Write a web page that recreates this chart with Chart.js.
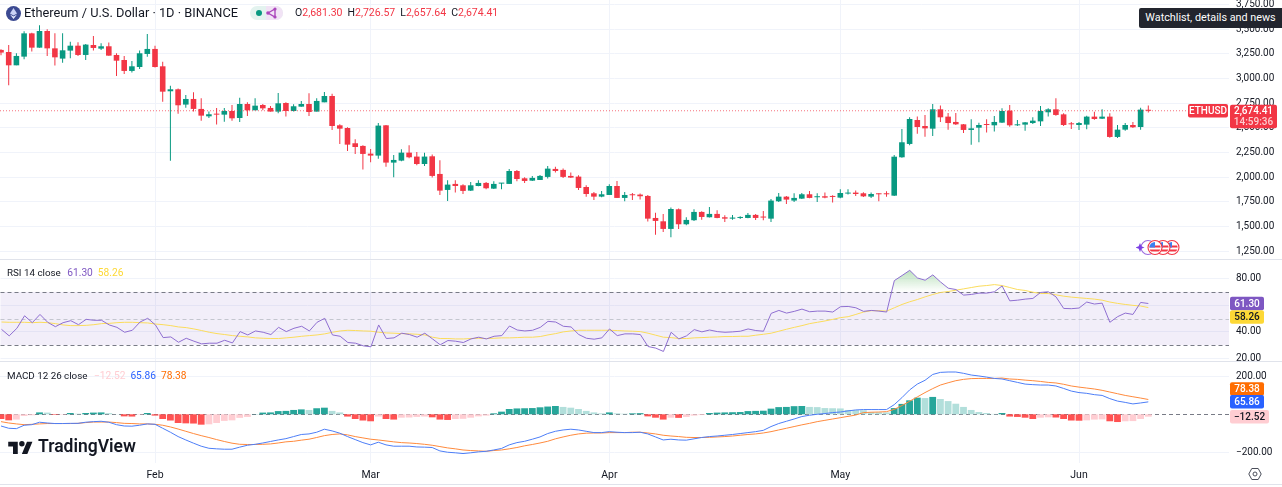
<!DOCTYPE html>
<html>
<head>
<meta charset="utf-8">
<title>ETHUSD</title>
<script src="https://cdn.jsdelivr.net/npm/chart.js@4/dist/chart.umd.min.js"></script>
<style>
    html, body { margin: 0; padding: 0; background: #fff; overflow: hidden; }
    body { width: 1282px; height: 487px; position: relative; font-family: Roboto, sans-serif; color: #131722; }
    canvas { position: absolute; left: 0; }
    .sep { position: absolute; left: 0; width: 1282px; height: 1px; background: #e0e3eb; }
    .txt { position: absolute; white-space: nowrap; font-size: 9.8px; line-height: 14px; }
    .txt span { margin-left: 5px; font-size: 10.2px; }
    .ohlc { font-size: 10.5px; }
    .ohlc b { font-weight: 400; margin-left: 5px; }
    .red { color: #f23645; }
</style>
</head>
<body>
<canvas id="priceChart" width="1282" height="259" style="top:0"></canvas>
<canvas id="rsiChart" width="1282" height="101" style="top:260px"></canvas>
<canvas id="macdChart" width="1282" height="123" style="top:362px"></canvas>
<div class="sep" style="top:259px"></div>
<div class="sep" style="top:361px"></div>
<div class="sep" style="top:484px"></div>

<svg style="position:absolute;left:6px;top:6px" width="15" height="15" viewBox="0 0 15 15">
    <circle cx="7.5" cy="7.5" r="7.5" fill="#3c4a92"/>
    <path d="M7.5 2 L11 7.6 L7.5 9.6 L4 7.6 Z" fill="#c9d1f5"/>
    <path d="M7.5 10.4 L11 8.4 L7.5 13 L4 8.4 Z" fill="#e8ecff"/>
</svg>
<div class="txt" style="left:24px;top:6px;font-size:12.8px">Ethereum / U.S. Dollar · 1D · BINANCE</div>
<svg style="position:absolute;left:250px;top:6px" width="33" height="14" viewBox="0 0 33 14">
    <rect width="33" height="14" rx="7" fill="#e3f3ef"/>
    <path d="M16 0 H26 A7 7 0 0 1 26 14 H16 Z" fill="#f1e3f5"/>
    <circle cx="9" cy="7" r="3" fill="#089981"/>
    <path d="M18 7 L25 3 L25 11 Z" fill="none" stroke="#ab47bc" stroke-width="1.4"/>
    <circle cx="18" cy="7" r="1.8" fill="#ab47bc"/><circle cx="25" cy="3" r="1.6" fill="#ab47bc"/><circle cx="25" cy="11" r="1.6" fill="#ab47bc"/>
</svg>
<div class="txt ohlc" style="left:295px;top:6px">O<i class="red" style="font-style:normal">2,681.30</i><b>H</b><i class="red" style="font-style:normal">2,726.57</i><b>L</b><i class="red" style="font-style:normal">2,657.64</i><b>C</b><i class="red" style="font-style:normal">2,674.41</i></div>

<div class="txt" style="left:1139px;top:8px;width:143px;height:20px;line-height:20px;background:#22252e;color:#fff;text-align:center;border-radius:2px 0 0 2px;font-size:10.8px">Watchlist, details and news</div>

<svg style="position:absolute;left:1136px;top:237px" width="48" height="21" viewBox="0 0 48 21">
    <defs>
        <clipPath id="flagClip"><circle cx="0" cy="0" r="5.6"/></clipPath>
        <g id="flag">
            <circle r="7" fill="#fff" stroke="#f23645" stroke-width="1.1"/>
            <g clip-path="url(#flagClip)">
                <rect x="-6" y="-6" width="12" height="12" fill="#fff"/>
                <rect x="-6" y="-2" width="12" height="2" fill="#f23645"/>
                <rect x="-6" y="2" width="12" height="2" fill="#f23645"/>
                <rect x="-6" y="-6" width="6" height="6" fill="#3d7ff0"/>
            </g>
        </g>
    </defs>
    <circle cx="12" cy="10.5" r="7" fill="none" stroke="#9c6ade" stroke-width="1.1"/>
    <path d="M4 6 L5.3 9.3 L8.5 10.5 L5.3 11.7 L4 15 L2.7 11.7 L-0.5 10.5 L2.7 9.3 Z" fill="#7b3fe4"/>
    <use href="#flag" x="36" y="10.5"/>
    <use href="#flag" x="27" y="10.5"/>
    <use href="#flag" x="19" y="10.5"/>
</svg>

<div class="txt" style="left:7px;top:266px">RSI 14 close<span style="color:#7e57c2;margin-left:6.5px">61.30</span><span style="color:#fdd835">58.26</span></div>
<div class="txt" style="left:7px;top:369px">MACD 12 26 close<span style="color:#ffcdd2;margin-left:6.5px">−12.52</span><span style="color:#2962ff">65.86</span><span style="color:#ff6d00">78.38</span></div>

<svg style="position:absolute;left:8px;top:439px" width="25" height="15" viewBox="0 0 36 22">
    <path d="M14 22H7V11H0V4h14v18zM28 22h-8l7.5-18h8L28 22z" fill="#131722"/><circle cx="20" cy="7" r="4" fill="#131722"/>
</svg>
<div class="txt" style="left:38px;top:436px;font-size:17.5px;line-height:21px;font-weight:600">TradingView</div>

<svg style="position:absolute;left:1248px;top:467px" width="14" height="14" viewBox="0 0 14 14">
    <path d="M3.8 1.5 H10.2 L13.2 7 L10.2 12.5 H3.8 L0.8 7 Z" fill="none" stroke="#4a4e5a"/>
    <circle cx="7" cy="7" r="2" fill="none" stroke="#4a4e5a"/>
</svg>

<script>
// Daily ETHUSD candles, Jan 12 to Jun 10
const opens = [3291,3270,3135,3223,3459,3314,3483,3307,3203,3284,
    3334,3240,3341,3304,3328,3240,3189,3078,3118,3250,
    3301,3125,2872,2892,2737,2794,2693,2618,2639,2635,
    2672,2601,2743,2679,2733,2703,2666,2753,2672,2716,
    2743,2666,2760,2824,2527,2500,2345,2318,2240,2220,
    2527,2149,2169,2250,2210,2135,2213,2034,1872,1933,
    1919,1865,1912,1943,1885,1936,1933,2064,1990,1966,
    1973,2004,2085,2075,2014,2007,1902,1838,1804,1821,
    1912,1791,1825,1825,1811,1588,1554,1477,1676,1524,
    1565,1649,1595,1629,1595,1581,1588,1588,1619,1598,
    1581,1757,1804,1764,1784,1828,1798,1808,1808,1794,
    1835,1845,1838,1804,1831,1834,1814,2203,2338,2581,
    2520,2493,2689,2615,2561,2537,2480,2503,2537,2527,
    2554,2676,2527,2534,2550,2567,2659,2689,2638,2544,
    2530,2534,2615,2594,2615,2409,2483,2530,2510,2681.3];
const highs = [3297,3341,3257,3480,3466,3540,3500,3459,3459,3375,
    3368,3351,3432,3358,3365,3257,3230,3179,3284,3453,
    3334,3172,2929,2899,2835,2862,2801,2666,2703,2703,
    2733,2807,2760,2801,2743,2723,2855,2760,2740,2774,
    2851,2801,2865,2848,2537,2507,2385,2324,2287,2551,
    2530,2226,2284,2324,2257,2250,2230,2173,1970,1970,
    1929,1953,1970,1953,1960,1943,2085,2075,2000,2014,
    2024,2115,2108,2088,2048,2021,1919,1852,1862,1929,
    1963,1852,1841,1835,1821,1642,1629,1693,1683,1595,
    1676,1656,1700,1666,1615,1618,1605,1639,1629,1659,
    1781,1841,1811,1838,1841,1862,1838,1845,1818,1879,
    1879,1865,1848,1845,1838,1858,2226,2490,2608,2615,
    2632,2743,2729,2652,2652,2540,2588,2554,2588,2621,
    2699,2733,2581,2561,2608,2723,2699,2801,2648,2561,
    2561,2625,2665,2689,2648,2530,2551,2561,2706,2726.57];
const lows = [3236,2932,3135,3196,3274,3314,3230,3132,3162,3206,
    3230,3189,3284,3291,3233,3027,3047,3061,3098,3223,
    3112,2767,2169,2645,2706,2666,2574,2601,2534,2564,
    2574,2561,2622,2679,2679,2666,2649,2615,2666,2716,
    2622,2666,2760,2480,2338,2267,2237,2078,2152,2189,
    2108,2000,2162,2193,2122,2115,1997,1821,1760,1845,
    1831,1862,1909,1879,1882,1879,1933,1960,1943,1963,
    1973,1987,2048,1994,1994,1872,1804,1771,1798,1821,
    1791,1757,1771,1774,1551,1419,1446,1392,1477,1514,
    1558,1571,1592,1585,1548,1571,1578,1585,1568,1565,
    1548,1750,1730,1750,1781,1788,1750,1788,1744,1788,
    1825,1811,1801,1790,1757,1804,1811,2199,2324,2442,
    2412,2419,2561,2483,2530,2449,2331,2355,2453,2463,
    2551,2513,2520,2473,2540,2520,2615,2625,2520,2490,
    2480,2486,2584,2591,2402,2398,2473,2500,2483,2657.64];
const closes = [3264,3135,3230,3459,3314,3483,3307,3216,3287,3334,
    3240,3345,3311,3328,3233,3182,3078,3125,3257,3301,
    3118,2868,2892,2730,2794,2693,2625,2639,2635,2672,
    2598,2743,2679,2726,2699,2666,2750,2672,2720,2743,
    2662,2774,2824,2520,2493,2331,2307,2237,2220,2524,
    2149,2176,2250,2203,2135,2210,2014,1865,1926,1912,
    1862,1919,1943,1889,1933,1943,2064,1983,1963,1994,
    2014,2088,2064,2004,1997,1892,1831,1804,1828,1912,
    1791,1821,1818,1808,1581,1558,1477,1679,1524,1568,
    1649,1598,1629,1588,1581,1592,1598,1619,1588,1592,
    1764,1804,1774,1791,1828,1791,1808,1794,1801,1841,
    1845,1831,1807,1831,1828,1828,2209,2355,2591,2510,
    2496,2689,2608,2550,2537,2480,2496,2530,2530,2561,
    2672,2527,2534,2557,2574,2672,2689,2632,2530,2537,
    2550,2615,2591,2615,2409,2483,2530,2507,2686,2674.41];

// RSI 14 and its moving average
const rsiValues = [41.9,37.0,42.7,52.1,46.9,53.1,47.2,43.9,46.9,48.4,
    45.4,49.4,48.7,48.7,45.2,43.4,39.7,41.2,47.4,50.2,
    45.2,35.7,36.2,32.2,35.2,33.0,31.0,31.5,31.5,33.7,
    31.7,40.2,37.7,40.7,39.7,38.0,43.4,40.2,42.7,44.2,
    40.7,47.2,50.2,37.7,36.7,32.0,31.5,29.5,28.8,45.2,
    35.0,35.5,39.0,38.0,36.0,39.0,34.7,30.3,33.5,33.0,
    32.0,34.7,36.0,34.7,36.7,37.2,44.4,41.4,40.7,41.2,
    43.4,47.9,47.4,44.2,43.7,38.0,35.2,34.5,35.5,42.2,
    37.2,38.5,38.5,38.0,29.0,27.8,25.3,39.7,34.7,37.0,
    41.7,40.0,41.4,40.2,39.7,40.0,40.5,42.2,41.0,40.5,
    53.9,56.1,54.1,55.4,57.1,55.1,55.6,55.6,54.9,58.9,
    59.1,58.1,55.4,56.1,55.6,54.9,78.5,82.3,86.2,80.5,
    78.8,82.8,77.5,72.8,71.8,67.6,68.1,69.1,69.1,70.1,
    74.5,63.3,63.8,64.6,65.1,69.6,70.1,66.3,57.6,57.4,
    57.9,62.4,60.9,61.6,47.2,51.4,54.1,53.1,62.1,61.3];
const rsiAverage = [47.4,47.2,47.2,47.2,46.9,47.2,46.9,46.2,45.2,44.7,
    44.7,44.9,45.4,46.2,46.4,46.9,47.2,47.2,46.9,46.7,
    45.9,45.4,44.7,43.7,43.2,42.2,41.0,39.7,38.7,38.0,
    37.2,36.7,36.2,35.5,35.2,35.0,35.0,35.5,36.0,36.7,
    37.2,37.7,38.5,39.7,40.7,41.2,41.0,40.7,40.5,39.7,
    39.2,39.0,38.7,38.5,38.2,37.7,36.0,35.0,35.0,34.7,
    34.7,35.0,35.2,35.0,35.2,35.5,35.5,35.7,36.0,36.0,
    36.5,37.7,38.7,40.0,40.7,41.2,41.2,41.2,41.2,41.2,
    41.0,40.7,40.5,40.2,39.0,37.5,36.0,35.7,35.0,35.0,
    35.5,35.7,36.0,36.2,36.5,36.5,36.7,36.7,37.5,38.2,
    39.0,40.5,42.0,43.4,44.7,46.2,47.2,48.2,49.4,50.7,
    51.4,53.1,54.9,55.9,55.9,55.6,58.1,60.6,62.6,64.3,
    66.3,68.1,69.6,70.3,71.3,72.3,73.3,74.3,74.8,75.5,
    74.8,73.3,71.8,71.1,69.8,68.8,68.8,67.8,66.8,66.1,
    65.6,65.1,64.6,63.8,62.4,61.4,60.6,59.9,59.4,58.26];

// MACD 12 26
const macdHistogram = [-25,-32,-28,-9,-5,10,9,-3,-2,7,
    3,7,9,10,6,1,-11,-12,-2,7,
    -7,-25,-33,-46,-48,-49,-55,-53,-46,-35,
    -32,-19,-14,1,9,10,17,18,23,26,
    23,32,35,18,10,-12,-25,-33,-37,-12,
    -25,-28,-18,-17,-14,-12,-16,-28,-30,-25,
    -24,-18,-11,-7,5,14,28,31,32,33,
    37,41,44,39,35,28,18,10,5,10,
    5,3,5,6,-11,-18,-28,-18,-19,-14,
    -7,-4,7,9,10,11,12,17,18,19,
    30,38,39,43,44,39,38,33,32,31,
    23,22,21,12,11,10,33,55,74,88,
    86,92,81,70,56,39,23,12,7,2,
    7,-12,-14,-18,-25,-18,-16,-17,-25,-33,
    -34,-32,-28,-27,-37,-41,-37,-36,-25,-12.52];
const macdLine = [-62,-74,-76,-58,-55,-42,-46,-49,-49,-48,
    -48,-42,-39,-37,-42,-55,-62,-63,-58,-51,
    -53,-74,-95,-118,-136,-153,-169,-180,-183,-185,
    -185,-174,-164,-159,-152,-144,-136,-129,-118,-107,
    -104,-95,-79,-88,-100,-118,-134,-150,-162,-148,
    -162,-169,-169,-169,-173,-174,-176,-194,-201,-204,
    -208,-204,-199,-196,-189,-181,-162,-150,-143,-132,
    -120,-102,-90,-83,-79,-83,-90,-97,-97,-92,
    -95,-97,-97,-95,-104,-120,-136,-132,-136,-137,
    -130,-123,-118,-115,-111,-107,-102,-97,-92,-85,
    -65,-49,-37,-25,-12,-5,0,4,9,12,
    18,23,25,25,25,25,51,88,129,160,
    180,211,222,224,224,217,208,203,197,190,
    187,178,169,160,157,155,155,150,137,123,
    115,111,104,100,83,70,63,55,60,65.86];
const signalLine = [-39,-46,-51,-55,-53,-51,-49,-49,-49,-49,
    -48,-44,-41,-41,-41,-44,-48,-49,-51,-51,
    -53,-58,-67,-78,-90,-102,-113,-123,-134,-144,
    -153,-159,-160,-160,-159,-157,-152,-146,-143,-137,
    -132,-123,-113,-107,-104,-109,-118,-125,-132,-136,
    -141,-146,-150,-152,-155,-159,-164,-171,-178,-183,
    -189,-192,-194,-196,-192,-189,-183,-176,-167,-160,
    -152,-143,-130,-120,-111,-104,-100,-99,-99,-97,
    -97,-97,-95,-95,-99,-104,-111,-115,-118,-122,
    -123,-123,-122,-120,-118,-115,-111,-107,-104,-99,
    -92,-83,-74,-65,-56,-48,-39,-32,-25,-18,
    -11,-4,9,11,12,14,26,46,69,92,
    115,136,155,167,178,185,189,190,190,190,
    192,187,185,181,178,174,169,166,159,150,
    144,139,134,127,118,109,100,93,86,78.38];

// Axis ticks
const monthTicks = [20, 48, 79, 109, 140];
const monthLabels = ['Feb', 'Mar', 'Apr', 'May', 'Jun'];
const priceTicks = [3750, 3500, 3250, 3000, 2750, 2500, 2250, 2000, 1750, 1500, 1250];
const rsiTicks = [80, 60, 40, 20];
const macdTicks = [200, -200];
const lastPrice = 2674.41;

const upColor = '#089981';
const downColor = '#f23645';
const fontFamily = 'Roboto, sans-serif';
const xMin = -0.13;
const xMax = 159.48;

function toPoints(values) {
    return values.map((v, i) => ({ x: i, y: v }));
}

function formatPrice(v) {
    return v.toLocaleString('en-US', { minimumFractionDigits: 2, maximumFractionDigits: 2 }).replace('-', '\u2212');
}

// Shared options for the three panes, same x window so the candles line up
function paneOptions(yMin, yMax, yTicks, showTimeAxis) {
    return {
        responsive: false,
        animation: false,
        events: [],
        layout: { padding: 0 },
        plugins: { legend: { display: false }, tooltip: { enabled: false } },
        scales: {
            x: {
                type: 'linear',
                min: xMin,
                max: xMax,
                offset: false,
                border: { display: false },
                grid: { color: '#f0f3fa', offset: false, drawTicks: false },
                afterBuildTicks: axis => { axis.ticks = monthTicks.map(v => ({ value: v })); },
                afterFit: axis => {
                    axis.height = showTimeAxis ? 22 : 0;
                    axis.paddingLeft = 0;
                    axis.paddingRight = 0;
                },
                ticks: {
                    display: showTimeAxis,
                    autoSkip: false,
                    maxRotation: 0,
                    padding: 6,
                    color: '#131722',
                    font: { family: fontFamily, size: 10.5 },
                    callback: v => monthLabels[monthTicks.indexOf(v)]
                }
            },
            y: {
                type: 'linear',
                position: 'right',
                min: yMin,
                max: yMax,
                border: { display: false },
                grid: { color: '#f0f3fa', drawTicks: false },
                afterBuildTicks: axis => { axis.ticks = yTicks.map(v => ({ value: v })); },
                afterFit: axis => {
                    axis.width = 53;
                    axis.paddingTop = 0;
                    axis.paddingBottom = 0;
                },
                ticks: {
                    padding: 7,
                    color: '#131722',
                    font: { family: fontFamily, size: 10 },
                    callback: v => formatPrice(v)
                }
            }
        }
    };
}

// Coloured value labels on the price axis
function valueTags(tags) {
    return {
        id: 'valueTags',
        afterDraw(chart) {
            const ctx = chart.ctx;
            ctx.save();
            tags.forEach(tag => {
                const center = chart.scales.y.getPixelForValue(tag.value) + (tag.shift || 0);
                const left = tag.left || chart.chartArea.right + 1;
                const lines = tag.lines;
                const height = tag.height || 13.5;
                ctx.fillStyle = tag.bg;
                ctx.beginPath();
                ctx.roundRect(left, center - height / 2, tag.width, height, 2);
                ctx.fill();
                ctx.font = '500 10px ' + fontFamily;
                ctx.textBaseline = 'middle';
                ctx.textAlign = 'center';
                lines.forEach((line, i) => {
                    // second row (countdown) is a bit faded
                    ctx.fillStyle = i > 0 ? 'rgba(255,255,255,0.75)' : tag.fg;
                    ctx.fillText(line, left + tag.width / 2, center + 0.5 + (i - (lines.length - 1) / 2) * 11.5);
                });
            });
            ctx.restore();
        }
    };
}

// Horizontal dashed level lines, and the optional RSI band behind them
function levels(lines, band) {
    return {
        id: 'levels',
        beforeDatasetsDraw(chart) {
            const ctx = chart.ctx;
            const y = chart.scales.y;
            const area = chart.chartArea;
            ctx.save();
            if (band) {
                ctx.fillStyle = 'rgba(126,87,194,0.1)';
                ctx.fillRect(area.left, y.getPixelForValue(band[1]), area.width, y.getPixelForValue(band[0]) - y.getPixelForValue(band[1]));
            }
            ctx.lineWidth = 1;
            ctx.setLineDash([4, 3]);
            lines.forEach(line => {
                const py = Math.round(y.getPixelForValue(line.value)) + 0.5;
                ctx.strokeStyle = line.color;
                ctx.beginPath();
                ctx.moveTo(area.left, py);
                ctx.lineTo(area.right, py);
                ctx.stroke();
            });
            ctx.restore();
        }
    };
}

// Price pane: wicks and bodies as floating bars
const candleColors = closes.map((c, i) => c >= opens[i] ? upColor : downColor);

new Chart(document.getElementById('priceChart'), {
    type: 'bar',
    data: {
        datasets: [
            {
                type: 'line',
                data: [{ x: xMin, y: lastPrice }, { x: xMax, y: lastPrice }],
                borderColor: 'rgba(242,54,69,0.7)',
                borderWidth: 1,
                borderDash: [1, 2],
                pointRadius: 0
            },
            {
                data: opens.map((o, i) => ({ x: i, y: [o, closes[i]] })),
                backgroundColor: candleColors,
                borderWidth: 0,
                barThickness: 5.6,
                minBarLength: 1,
                grouped: false,
                inflateAmount: 0
            },
            {
                data: lows.map((l, i) => ({ x: i, y: [l, highs[i]] })),
                backgroundColor: candleColors,
                borderWidth: 0,
                barThickness: 1,
                grouped: false,
                inflateAmount: 0
            }
        ]
    },
    options: paneOptions(1172, 3797, priceTicks, false),
    plugins: [valueTags([
        { value: lastPrice, lines: ['ETHUSD'], bg: downColor, fg: '#fff', width: 40, left: 1188 },
        { value: lastPrice, shift: 5.8, height: 23.5, lines: ['2,674.41', '14:59:36'], bg: downColor, fg: '#fff', width: 47 }
    ])]
});

// RSI pane
const rsiChart = new Chart(document.getElementById('rsiChart'), {
    type: 'line',
    data: {
        datasets: [
            {
                data: toPoints(rsiValues),
                borderColor: '#8f6fd1',
                borderWidth: 1,
                pointRadius: 0,
                tension: 0,
                fill: { target: { value: 70 }, above: 'rgba(76,175,80,0.2)', below: 'transparent' }
            },
            {
                data: toPoints(rsiAverage),
                borderColor: '#fbdc5c',
                borderWidth: 1,
                pointRadius: 0,
                tension: 0,
                fill: false
            }
        ]
    },
    options: paneOptions(18.5, 93.6, rsiTicks, false),
    plugins: [
        levels([
            { value: 70, color: '#787b86' },
            { value: 50, color: '#c4c6cf' },
            { value: 30, color: '#787b86' }
        ], [30, 70]),
        valueTags([
            { value: 61.30, lines: ['61.30'], bg: '#7e57c2', fg: '#fff', width: 34 },
            { value: 58.26, shift: 9.4, lines: ['58.26'], bg: '#fdd835', fg: '#131722', width: 34 }
        ])
    ]
});

// green fades out towards the 70 line
const rsiScale = rsiChart.scales.y;
const overbought = rsiChart.ctx.createLinearGradient(0, rsiScale.getPixelForValue(87), 0, rsiScale.getPixelForValue(70));
overbought.addColorStop(0, 'rgba(76,175,80,0.4)');
overbought.addColorStop(1, 'rgba(76,175,80,0)');
rsiChart.data.datasets[0].fill.above = overbought;
rsiChart.update('none');

// MACD pane, histogram shade follows rising or falling
const histogramColors = macdHistogram.map((v, i) => {
    const prev = i > 0 ? macdHistogram[i - 1] : 0;
    if (v >= 0) return v > prev ? '#26a69a' : '#b2dfdb';
    return v < prev ? '#ff5252' : '#ffcdd2';
});

new Chart(document.getElementById('macdChart'), {
    type: 'bar',
    data: {
        datasets: [
            { type: 'line', data: toPoints(macdLine), borderColor: '#4d7ef7', borderWidth: 1, pointRadius: 0, tension: 0 },
            { type: 'line', data: toPoints(signalLine), borderColor: '#ff8a3d', borderWidth: 1, pointRadius: 0, tension: 0 },
            {
                data: toPoints(macdHistogram),
                backgroundColor: histogramColors,
                borderWidth: 0,
                barThickness: 6.8,
                grouped: false,
                inflateAmount: 0
            }
        ]
    },
    options: paneOptions(-258, 277, macdTicks, true),
    plugins: [
        levels([{ value: 0, color: '#787b86' }]),
        valueTags([
            { value: 78.38, shift: -10.5, lines: ['78.38'], bg: '#ff6d00', fg: '#fff', width: 34 },
            { value: 65.86, lines: ['65.86'], bg: '#2962ff', fg: '#fff', width: 34 },
            { value: -12.52, lines: ['\u221212.52'], bg: '#ffcdd2', fg: '#131722', width: 39 }
        ])
    ]
});
</script>
</body>
</html>
